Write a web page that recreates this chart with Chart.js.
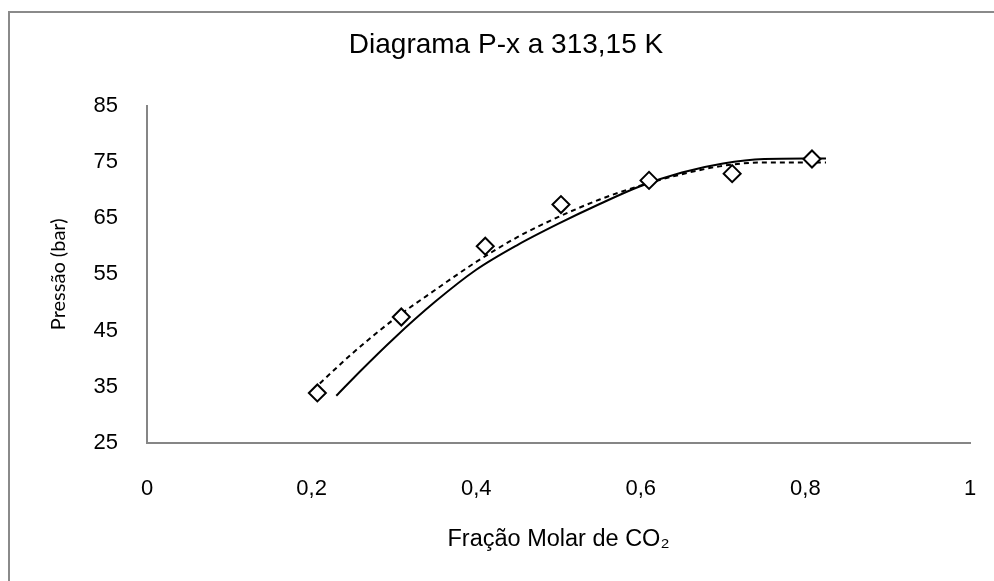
<!DOCTYPE html>
<html>
<head>
<meta charset="utf-8">
<script src="https://cdn.jsdelivr.net/npm/chart.js@4"></script>
<style>
  html, body { margin: 0; padding: 0; background: #fff; overflow: hidden; }
</style>
</head>
<body>
<canvas id="chart" width="994" height="581"></canvas>
<script>
// experimental points
const expX = [0.207, 0.309, 0.411, 0.503, 0.610, 0.711, 0.808];
const expP = [33.9, 47.4, 60.0, 67.4, 71.7, 72.9, 75.5];

// model curve (solid)
const solidX = [0.23, 0.26, 0.30, 0.35, 0.40, 0.45, 0.50, 0.55, 0.60, 0.65, 0.70, 0.75, 0.80, 0.825];
const solidP = [33.4, 37.9, 43.6, 50.1, 55.8, 60.2, 64.0, 67.5, 70.7, 73.1, 74.7, 75.5, 75.6, 75.6];

// model curve (dashed)
const dashX = [0.21, 0.25, 0.30, 0.35, 0.40, 0.45, 0.50, 0.55, 0.60, 0.65, 0.70, 0.75, 0.80, 0.825];
const dashP = [35.6, 41.0, 47.0, 52.2, 57.2, 61.6, 65.2, 68.3, 70.8, 72.8, 74.3, 74.9, 74.9, 74.9];

const xTicks = [0, 0.2, 0.4, 0.6, 0.8, 1];
const yTicks = [25, 35, 45, 55, 65, 75, 85];

const toPts = (xs, ys) => xs.map((x, i) => ({ x: x, y: ys[i] }));
const comma = (v) => String(v).replace(".", ",");

const mainFont = "'Liberation Sans', Arial, sans-serif";

// grey frame round the whole chart (only left and top edges are in view)
const framePlugin = {
  id: "frame",
  beforeDraw(chart) {
    const ctx = chart.ctx;
    ctx.save();
    ctx.strokeStyle = "#8a8a8a";
    ctx.lineWidth = 2;
    ctx.beginPath();
    ctx.moveTo(9, chart.height + 2);
    ctx.lineTo(9, 12);
    ctx.lineTo(chart.width + 2, 12);
    ctx.stroke();
    ctx.restore();
  }
};

new Chart(document.getElementById("chart"), {
  type: "scatter",
  data: {
    datasets: [
      {
        label: "Experimental",
        data: toPts(expX, expP),
        pointStyle: "rectRot",
        pointRadius: 8.5,
        pointBackgroundColor: "#fff",
        pointBorderColor: "#000",
        pointBorderWidth: 2,
        showLine: false,
        order: 0
      },
      {
        label: "Modelo 1",
        data: toPts(solidX, solidP),
        showLine: true,
        borderColor: "#000",
        borderWidth: 2,
        pointRadius: 0,
        cubicInterpolationMode: "monotone",
        order: 2
      },
      {
        label: "Modelo 2",
        data: toPts(dashX, dashP),
        showLine: true,
        borderColor: "#000",
        borderWidth: 2,
        borderDash: [5, 4],
        pointRadius: 0,
        cubicInterpolationMode: "monotone",
        order: 1
      }
    ]
  },
  options: {
    responsive: false,
    animation: false,
    layout: { padding: { left: 42, right: 24, top: 0, bottom: 0 } },
    plugins: {
      legend: { display: false },
      tooltip: { enabled: false },
      title: {
        display: true,
        text: "Diagrama P-x a 313,15 K",
        color: "#000",
        font: { family: mainFont, size: 28, weight: "normal" },
        padding: { top: 28, bottom: 44 }
      }
    },
    scales: {
      x: {
        type: "linear",
        min: 0,
        max: 1,
        afterBuildTicks: (s) => { s.ticks = xTicks.map((v) => ({ value: v })); },
        afterFit: (s) => { s.height = 138; s.paddingLeft = 0; s.paddingRight = 0; },
        grid: { display: false, drawTicks: false },
        border: { display: true, color: "#868686", width: 2 },
        ticks: {
          color: "#000",
          padding: 33,
          font: { family: mainFont, size: 22 },
          callback: (v) => comma(v)
        },
        title: {
          display: true,
          text: "Fração Molar de CO₂",
          color: "#000",
          font: { family: mainFont, size: 23.5 },
          padding: { top: 0, bottom: 27 }
        }
      },
      y: {
        min: 25,
        max: 85,
        afterBuildTicks: (s) => { s.ticks = yTicks.map((v) => ({ value: v })); },
        afterFit: (s) => { s.width = 105; },
        grid: { display: false, drawTicks: false },
        border: { display: true, color: "#868686", width: 2 },
        ticks: {
          color: "#000",
          padding: 29,
          font: { family: mainFont, size: 22 }
        },
        title: {
          display: true,
          text: "Pressão (bar)",
          color: "#000",
          font: { family: "Lato, 'Open Sans', sans-serif", size: 20 },
          padding: { top: 5, bottom: 0 }
        }
      }
    }
  },
  plugins: [framePlugin]
});
</script>
</body>
</html>
